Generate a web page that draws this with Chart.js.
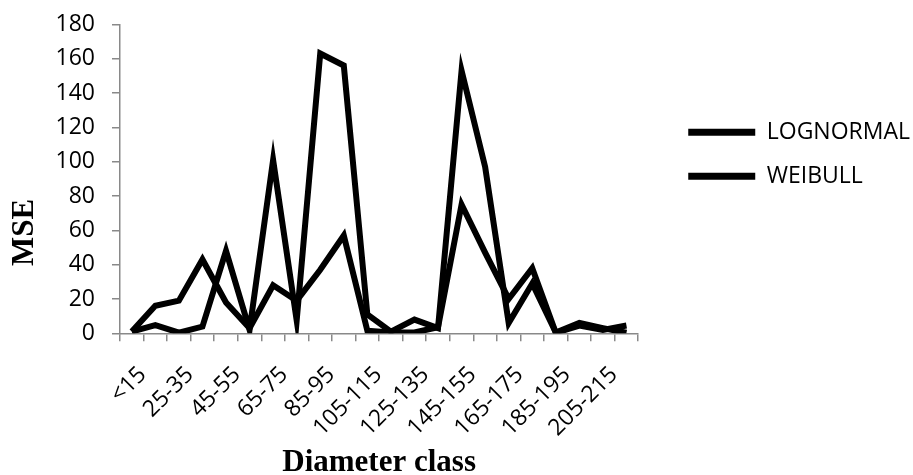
<!DOCTYPE html>
<html>
<head>
<meta charset="utf-8">
<script src="https://cdn.jsdelivr.net/npm/chart.js@4.4.1/dist/chart.umd.min.js"></script>
<style>
  html, body { margin: 0; padding: 0; background: #fff; }
  #wrap { width: 913px; height: 475px; position: relative; }
</style>
</head>
<body>
<div id="wrap"><canvas id="c"></canvas></div>
<script>
const categories = ['<15','15-25','25-35','35-45','45-55','55-65','65-75','75-85','85-95','95-105',
  '105-115','115-125','125-135','135-145','145-155','155-165','165-175','175-185','185-195',
  '195-205','205-215','215-225'];
const lognormal = [1, 4.8, 0.4, 3.9, 48, 2, 101, 7.5, 163, 156, 11, 1, 8, 3, 153, 97, 6, 29, 0.5, 6, 3, 0.3];
const weibull   = [1, 16, 19, 43, 18, 3, 28, 19, 37, 57, 1.5, 0.5, 0.5, 3.5, 75, 47, 20, 38, 0.3, 4.5, 2, 4.5];
const seriesNames = ['LOGNORMAL', 'WEIBULL'];
const yTicks = { min: 0, max: 180, step: 20 };
const xTitle = 'Diameter class';
const yTitle = 'MSE';

const axisGray = '#898989';
const tickFont = { family: 'Open Sans', size: 23 };

const yTitlePlugin = {
  id: 'yTitlePlugin',
  afterDraw(chart) {
    const ctx = chart.ctx;
    const a = chart.chartArea;
    ctx.save();
    ctx.translate(a.left - 95, a.top + 208);
    ctx.rotate(-Math.PI / 2);
    ctx.font = 'bold 31px "Liberation Serif"';
    ctx.fillStyle = '#000';
    ctx.textAlign = 'center';
    ctx.textBaseline = 'middle';
    ctx.fillText(yTitle, 0, 0);
    ctx.restore();
  }
};

new Chart(document.getElementById('c'), {
  type: 'line',
  data: {
    labels: categories,
    datasets: [
      { label: seriesNames[0], data: lognormal, borderColor: '#000', backgroundColor: '#000',
        borderWidth: 6, pointRadius: 0, tension: 0, borderJoinStyle: 'miter', fill: false },
      { label: seriesNames[1], data: weibull, borderColor: '#000', backgroundColor: '#000',
        borderWidth: 6, pointRadius: 0, tension: 0, borderJoinStyle: 'miter', fill: false }
    ]
  },
  options: {
    responsive: true,
    maintainAspectRatio: false,
    animation: false,
    layout: { padding: { top: 24.3, right: -7, bottom: 0, left: 0 } },
    plugins: {
      tooltip: { enabled: false },
      legend: {
        position: 'right',
        align: 'start',
        maxWidth: 320,
        title: { display: true, text: '', font: { size: 12 }, padding: { top: 61, bottom: 0 } },
        labels: {
          color: '#000',
          font: { family: 'Open Sans', size: 23 },
          boxWidth: 67,
          boxHeight: 7,
          padding: 21,
          generateLabels(chart) {
            return chart.data.datasets.map((ds, i) => ({
              text: ds.label, fillStyle: '#000', strokeStyle: '#000', lineWidth: 0,
              hidden: false, datasetIndex: i, fontColor: '#000'
            }));
          }
        }
      }
    },
    scales: {
      x: {
        type: 'category',
        offset: true,
        grid: { display: true, offset: true, drawOnChartArea: false, drawTicks: true, tickLength: 8, color: axisGray, lineWidth: 1.5 },
        border: { display: true, color: axisGray, width: 1.5 },
        ticks: {
          autoSkip: false, minRotation: 45, maxRotation: 45, padding: 20, labelOffset: 11,
          color: '#000', font: tickFont,
          callback(v, i) { return i % 2 === 0 ? categories[i] : ''; }
        },
        title: { display: true, text: xTitle, color: '#000',
          font: { family: 'Liberation Serif', size: 31, weight: 'bold', lineHeight: 0.8 }, padding: 0 },
        afterFit(s) { s.height = 141.7; s.paddingLeft = 0; s.paddingRight = 0; }
      },
      y: {
        min: yTicks.min, max: yTicks.max,
        grid: { display: true, drawOnChartArea: false, drawTicks: true, tickLength: 8, color: axisGray, lineWidth: 1.5 },
        border: { display: true, color: axisGray, width: 1.5 },
        ticks: { stepSize: yTicks.step, padding: 17, color: '#000', font: tickFont },
        afterFit(s) { s.width = 120; s.paddingTop = 0; s.paddingBottom = 0; }
      },
      yR: {
        position: 'right',
        display: true,
        grid: { display: false },
        border: { display: false },
        ticks: { display: false },
        afterFit(s) { s.width = 29; s.paddingTop = 0; s.paddingBottom = 0; }
      }
    }
  },
  plugins: [yTitlePlugin]
});
</script>
</body>
</html>
